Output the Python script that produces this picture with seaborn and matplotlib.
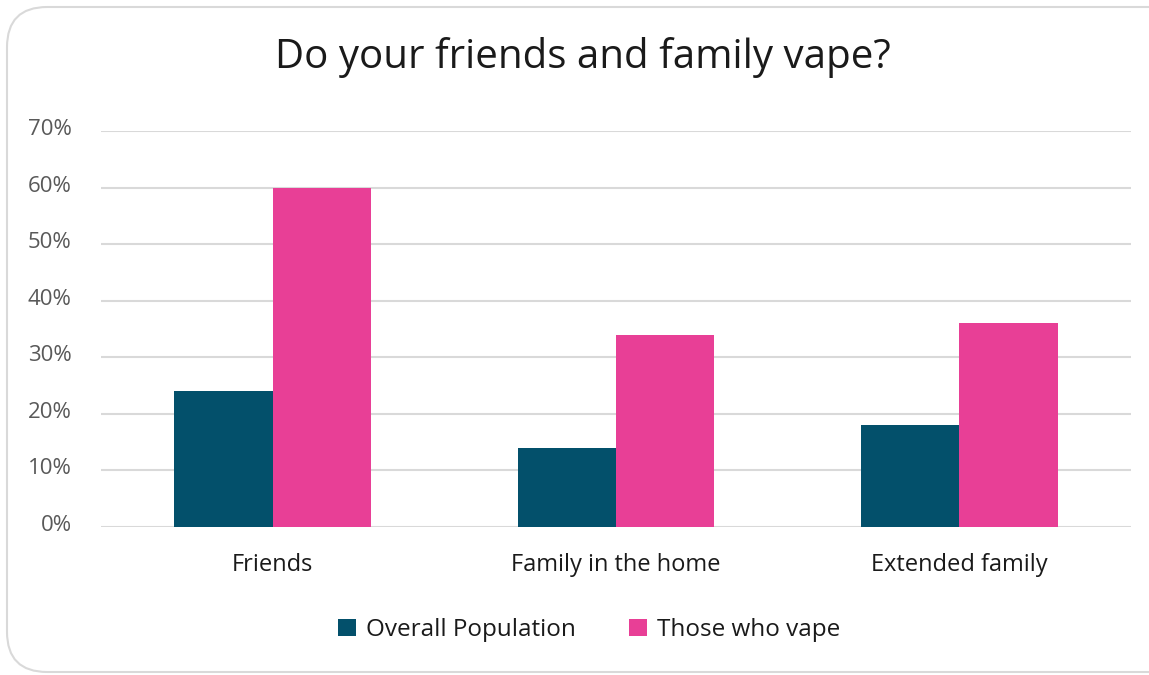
import matplotlib
matplotlib.use("Agg")
import matplotlib.pyplot as plt
from matplotlib.patches import FancyBboxPatch
from matplotlib.transforms import offset_copy
import seaborn as sns
import pandas as pd

categories = ["Friends", "Family in the home", "Extended family"]
series_names = ["Overall Population", "Those who vape"]
overall_population = [24, 14, 18]
those_who_vape = [60, 34, 36]
y_ticks = [0, 10, 20, 30, 40, 50, 60, 70]
y_tick_labels = [f"{t}%" for t in y_ticks]

colors = {"Overall Population": "#03506B", "Those who vape": "#E83F96"}

df = pd.DataFrame({
    "category": categories * 2,
    "series": [series_names[0]] * 3 + [series_names[1]] * 3,
    "value": overall_population + those_who_vape,
})

sns.set_theme(style="white")
plt.rcParams["font.family"] = ["Open Sans", "DejaVu Sans"]

W, H = 1149, 675
fig = plt.figure(figsize=(W / 100, H / 100), dpi=100)
fig.patch.set_facecolor("white")

# rounded card outline
card = FancyBboxPatch((7 / W, 3 / H), 1.2, (H - 10) / H,
                      boxstyle="round,pad=0,rounding_size=0.035",
                      transform=fig.transFigure, facecolor="none",
                      edgecolor="#D9D9D9", linewidth=1.5, zorder=-1,
                      mutation_aspect=W / H)
fig.patches.append(card)

ax = fig.add_axes([101 / W, 148 / H, 1030 / W, 396 / H])
ax.set_facecolor("none")
sns.barplot(data=df, x="category", y="value", hue="series", hue_order=series_names,
            order=categories, palette=colors, width=0.572, saturation=1,
            edgecolor="none", ax=ax, legend=True, zorder=3)

ax.set_xlim(-0.5, 2.5)
ax.set_ylim(0, 70)
ax.set_yticks(y_ticks)
ax.set_yticklabels(y_tick_labels, color="#595959", fontsize=16)
ax.tick_params(axis="y", length=0, pad=21)
ax.tick_params(axis="x", length=0, pad=19, labelsize=17, labelcolor="#1A1A1A")
for lbl in ax.get_yticklabels():
    lbl.set_transform(offset_copy(lbl.get_transform(), fig=fig, x=0, y=4, units="dots"))
ax.grid(axis="y", color="#D9D9D9", linewidth=1.5, zorder=0)
ax.set_axisbelow(True)
ax.set_xlabel("")
ax.set_ylabel("")
for s in ax.spines.values():
    s.set_visible(False)

handles, labels = ax.get_legend_handles_labels()
ax.get_legend().remove()
fig.legend(handles, labels, loc="center", bbox_to_anchor=(589 / W, 1 - 630 / H),
           ncol=2, frameon=False, fontsize=17.5, handlelength=0.75, handleheight=0.75,
           handletextpad=0.4, columnspacing=2.2, labelcolor="#1A1A1A")

fig.text(583 / W, 1 - 57 / H, "Do your friends and family vape?", ha="center",
         va="center", fontsize=29, color="#1A1A1A")

fig.savefig("out.png", dpi=100, facecolor="white")
